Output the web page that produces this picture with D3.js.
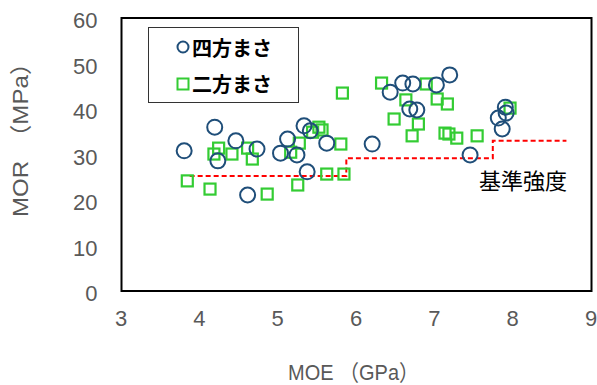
<!DOCTYPE html>
<html>
<head>
<meta charset="utf-8">
<script src="https://cdn.jsdelivr.net/npm/d3@7"></script>
<style>
  html, body { margin: 0; padding: 0; background: #fff; }
  svg { display: block; }
</style>
</head>
<body>
<svg id="chart" width="597" height="385"></svg>
<script>
// 四方まさ (circles): MOE in GPa, MOR in MPa
const shihoMOE = [3.80, 4.19, 4.46, 4.23, 4.61, 4.73, 5.03, 5.12, 5.24, 5.33, 5.41, 5.37, 5.62,
                  6.20, 6.43, 6.59, 6.72, 7.02, 7.19, 6.68, 6.77, 7.45, 7.90, 7.91, 7.81, 7.86];
const shihoMOR = [30.8, 36.0, 33.0, 28.6, 21.1, 31.2, 30.3, 33.4, 29.9, 36.3, 35.2, 26.2, 32.5,
                  32.3, 43.7, 45.7, 45.5, 45.3, 47.5, 40.0, 39.8, 29.9, 40.4, 39.1, 38.0, 35.6];

// 二方まさ (squares)
const nihoMOE = [3.84, 4.13, 4.18, 4.24, 4.41, 4.61, 4.67, 4.86, 5.16, 5.27, 5.25, 5.44, 5.52, 5.56,
                 5.80, 5.62, 5.84, 5.82, 6.32, 6.89, 6.63, 7.03, 7.16, 6.48, 6.79, 6.71, 7.13,
                 7.18, 7.28, 7.54, 7.96];
const nihoMOR = [24.2, 22.4, 30.1, 31.4, 30.1, 31.4, 29.0, 21.3, 30.5, 32.5, 23.3, 34.9, 36.0, 35.4,
                 32.3, 25.7, 25.7, 43.5, 45.7, 45.5, 42.0, 42.2, 41.1, 37.8, 36.7, 34.1, 34.7,
                 34.5, 33.6, 34.1, 40.2];

// 基準強度: step boundaries (MOE) and level on each step (MOR)
const stepEdges = [3.87, 5.87, 7.74, 8.68];
const stepLevels = [25.3, 29.2, 33.0];

const xTicks = [3, 4, 5, 6, 7, 8, 9];
const yTicks = [0, 10, 20, 30, 40, 50, 60];
const seriesNames = ["四方まさ", "二方まさ"];

const svg = d3.select("#chart");
const plotL = 121.5, plotR = 591.5, plotT = 18, plotB = 291;

const x = d3.scaleLinear().domain([3, 9]).range([plotL, plotR]);
const y = d3.scaleLinear().domain([0, 60]).range([plotB, plotT]);

const blue = "#1F4E79";
const green = "#33CC33";
const tickFont = "'Liberation Sans', Arial, sans-serif";
const cjkFont = "'Noto Sans CJK JP', 'Noto Sans CJK SC', sans-serif";

// axes (labels only, frame drawn separately)
const xAxis = svg.append("g")
  .attr("transform", `translate(0,${plotB})`)
  .call(d3.axisBottom(x).tickValues(xTicks).tickSize(0).tickPadding(19).tickFormat(d3.format("d")));
const yAxis = svg.append("g")
  .attr("transform", `translate(${plotL},0)`)
  .call(d3.axisLeft(y).tickValues(yTicks).tickSize(0).tickPadding(24).tickFormat(d3.format("d")));
[xAxis, yAxis].forEach(g => {
  g.select(".domain").remove();
  g.selectAll("text")
    .attr("fill", "#595959")
    .style("font-family", tickFont)
    .style("font-size", "22px");
});
yAxis.selectAll("text").attr("dy", "0.45em");
xAxis.selectAll("text").attr("dx", "-1");

// plot frame
svg.append("rect")
  .attr("x", plotL).attr("y", plotT)
  .attr("width", plotR - plotL).attr("height", plotB - plotT)
  .attr("fill", "none").attr("stroke", "#000").attr("stroke-width", 2);

// step line of the standard strength
const stepPts = [];
stepLevels.forEach((lv, i) => {
  stepPts.push([stepEdges[i], lv]);
  stepPts.push([stepEdges[i + 1], lv]);
});
const line = d3.line().x(d => x(d[0])).y(d => y(d[1]));
svg.append("path")
  .datum(stepPts)
  .attr("d", line)
  .attr("fill", "none")
  .attr("stroke", "#FF0000")
  .attr("stroke-width", 2)
  .attr("stroke-dasharray", "5,3");

// 二方まさ squares
const sq = 11;
svg.append("g").selectAll("rect")
  .data(d3.zip(nihoMOE, nihoMOR))
  .join("rect")
  .attr("x", d => x(d[0]) - sq / 2)
  .attr("y", d => y(d[1]) - sq / 2)
  .attr("width", sq).attr("height", sq)
  .attr("fill", "none")
  .attr("stroke", green)
  .attr("stroke-width", 2.2);

// 四方まさ circles
svg.append("g").selectAll("circle")
  .data(d3.zip(shihoMOE, shihoMOR))
  .join("circle")
  .attr("cx", d => x(d[0]))
  .attr("cy", d => y(d[1]))
  .attr("r", 7.5)
  .attr("fill", "none")
  .attr("stroke", blue)
  .attr("stroke-width", 2);

// legend
const lg = svg.append("g");
lg.append("rect")
  .attr("x", 148.5).attr("y", 27.5).attr("width", 150).attr("height", 75)
  .attr("fill", "#fff").attr("stroke", "#333").attr("stroke-width", 1);
lg.append("circle")
  .attr("cx", 183).attr("cy", 47).attr("r", 5.5)
  .attr("fill", "none").attr("stroke", blue).attr("stroke-width", 2);
lg.append("rect")
  .attr("x", 177.5).attr("y", 78.5).attr("width", 11).attr("height", 11)
  .attr("fill", "none").attr("stroke", green).attr("stroke-width", 2);
[56, 92].forEach((yy, i) => {
  lg.append("text")
    .attr("x", 192).attr("y", yy)
    .style("font-family", cjkFont)
    .style("font-size", "20px")
    .style("font-weight", "bold")
    .attr("fill", "#000")
    .text(seriesNames[i]);
});

// step line label
svg.append("text")
  .attr("x", 479).attr("y", 189)
  .style("font-family", cjkFont)
  .style("font-size", "22px")
  .attr("fill", "#000")
  .text("基準強度");

// axis titles
svg.append("text")
  .attr("x", 288).attr("y", 380)
  .attr("textLength", 131).attr("lengthAdjust", "spacingAndGlyphs")
  .style("font-family", `${tickFont}, ${cjkFont}`)
  .style("font-size", "22px")
  .attr("fill", "#595959")
  .text("MOE （GPa）");

svg.append("text")
  .attr("transform", "translate(28,217) rotate(-90)")
  .attr("x", 0).attr("y", 0)
  .attr("textLength", 166).attr("lengthAdjust", "spacingAndGlyphs")
  .style("font-family", `${tickFont}, ${cjkFont}`)
  .style("font-size", "22px")
  .attr("fill", "#595959")
  .text("MOR　（MPa）");
</script>
</body>
</html>
